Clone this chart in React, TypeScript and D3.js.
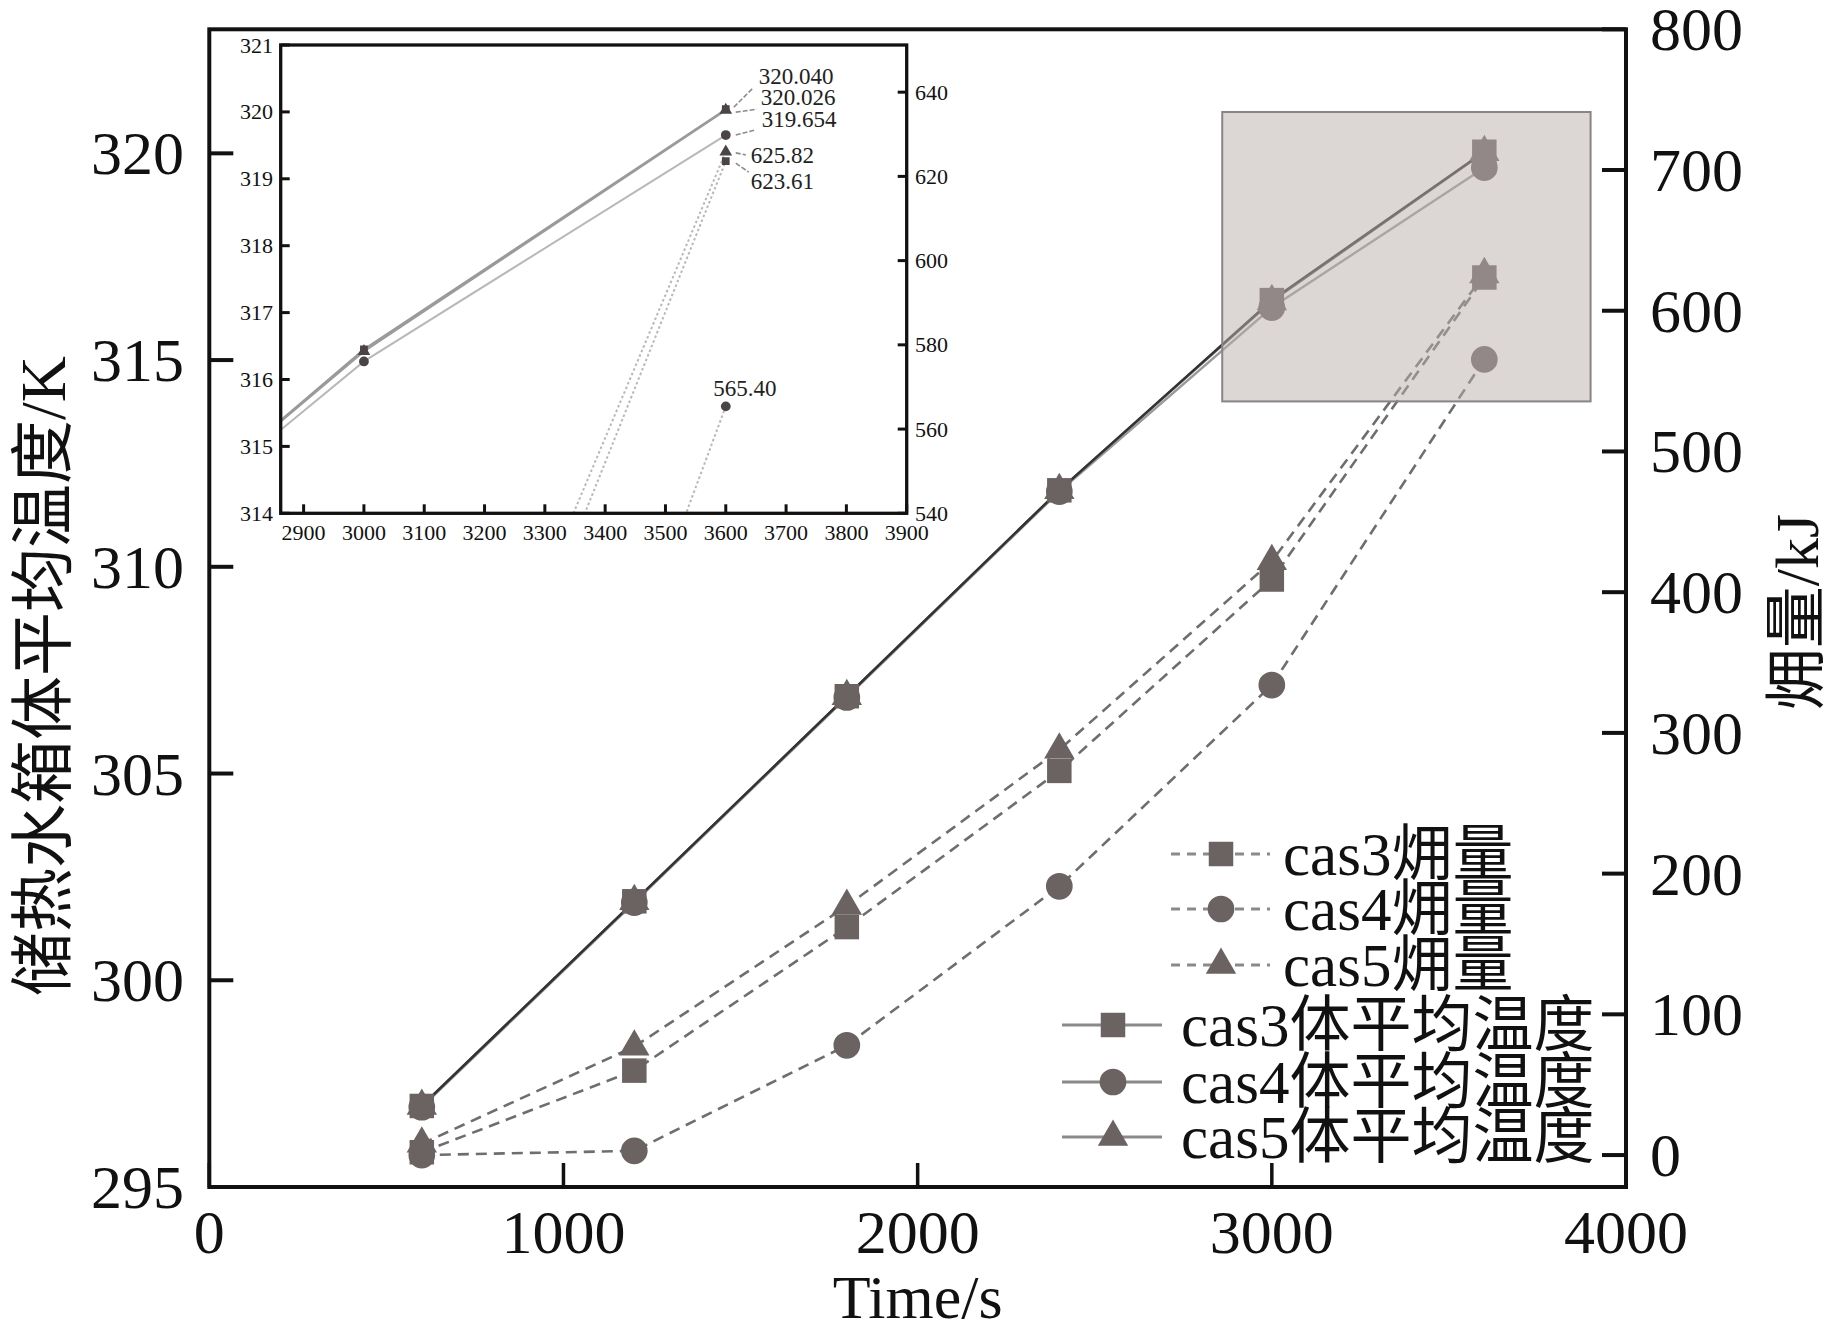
import React from "react";
import * as d3 from "d3";

// ---------- data ----------
const times = [600, 1200, 1800, 2400, 3000, 3600];
const tempCas3 = [296.96, 301.91, 306.87, 311.85, 316.45, 320.04];
const tempCas4 = [296.93, 301.88, 306.84, 311.82, 316.27, 319.654];
const tempCas5 = [296.96, 301.91, 306.87, 311.85, 316.42, 320.026];
const exCas3 = [2, 60, 162, 273, 409, 623.61];
const exCas4 = [0, 3, 78, 191, 334, 565.4];
const exCas5 = [8, 77, 177, 288, 422, 625.82];

const xTicks = [0, 1000, 2000, 3000, 4000];
const leftTicks = [295, 300, 305, 310, 315, 320];
const rightTicks = [0, 100, 200, 300, 400, 500, 600, 700, 800];

const insetXTicks = [2900, 3000, 3100, 3200, 3300, 3400, 3500, 3600, 3700, 3800, 3900];
const insetLeftTicks = [314, 315, 316, 317, 318, 319, 320, 321];
const insetRightTicks = [540, 560, 580, 600, 620, 640];

const zoomBox = { x0: 2860, x1: 3900, y0: 314, y1: 321 };

const legendLabels = [
  "cas3㶲量",
  "cas4㶲量",
  "cas5㶲量",
  "cas3体平均温度",
  "cas4体平均温度",
  "cas5体平均温度",
];

const FONT = "'Liberation Serif', 'Times New Roman', 'Noto Sans CJK SC', serif";
const MARK = "#6b6262";
const INK = "#111";

type Shape = "square" | "circle" | "triangle";

function symPath(shape: Shape, area: number) {
  const t =
    shape === "square" ? d3.symbolSquare : shape === "circle" ? d3.symbolCircle : d3.symbolTriangle;
  return d3.symbol().type(t).size(area)() as string;
}

export default function App() {
  // main plot geometry
  const L = 209.3, R = 1626, T = 29.3, B = 1187;
  const x = d3.scaleLinear().domain([0, 4000]).range([L, R]);
  const yL = d3.scaleLinear().domain([295, 323]).range([B, T]);
  const yR = d3.scaleLinear().domain([-22.7, 800]).range([B, T]);

  // inset geometry
  const iL = 280.7, iR = 906.7, iT = 45, iB = 513.3;
  const ix = d3.scaleLinear().domain([2862, 3900]).range([iL, iR]);
  const iyL = d3.scaleLinear().domain([314, 321]).range([iB, iT]);
  const iyR = d3.scaleLinear().domain([540, 651.2]).range([iB, iT]);

  const lineL = (vals: number[], sx: any, sy: any) =>
    d3.line<number>().x((_, i) => sx(times[i])).y((v) => sy(v))(vals) as string;

  const exSeries: { vals: number[]; shape: Shape }[] = [
    { vals: exCas3, shape: "square" },
    { vals: exCas4, shape: "circle" },
    { vals: exCas5, shape: "triangle" },
  ];
  const tSeries: { vals: number[]; shape: Shape; color: string }[] = [
    { vals: tempCas3, shape: "square", color: "#333333" },
    { vals: tempCas4, shape: "circle", color: "#9a9a9a" },
    { vals: tempCas5, shape: "triangle", color: "#666666" },
  ];
  const lineOrder = [1, 2, 0];
  const bigArea: Record<Shape, number> = { square: 600, circle: 560, triangle: 400 };
  const smallArea: Record<Shape, number> = { square: 60, circle: 75, triangle: 70 };

  // inset annotation anchors
  const px = ix(3600);
  const annots = [
    { text: "320.040", ax: px + 8, ay: iyL(320.04) - 2, bx: px + 27, by: iyL(320.04) - 21, tx: px + 33, ty: 76 },
    { text: "320.026", ax: px + 10, ay: iyL(320.026) + 2, bx: px + 31, by: iyL(320.026) - 1, tx: px + 35, ty: 97 },
    { text: "319.654", ax: px + 10, ay: iyL(319.654), bx: px + 29, by: iyL(319.654) - 5, tx: px + 36, ty: 119 },
    { text: "625.82", ax: px + 10, ay: iyR(625.82) + 1, bx: px + 20, by: iyR(625.82) + 3, tx: px + 25, ty: 155 },
    { text: "623.61", ax: px + 10, ay: iyR(623.61) + 2, bx: px + 23, by: iyR(623.61) + 11, tx: px + 25, ty: 181 },
  ];

  const legendRows = [854, 909, 965, 1025, 1082, 1137];

  return (
    <svg
      width={1845}
      height={1330}
      style={{ position: "absolute", left: 0, top: 0, background: "#fff" }}
      fontFamily={FONT}
    >
      <defs>
        <clipPath id="mainClip">
          <rect x={L} y={T} width={R - L} height={B - T} />
        </clipPath>
        <clipPath id="insetClip">
          <rect x={iL} y={iT} width={iR - iL} height={iB - iT} />
        </clipPath>
      </defs>
      <rect x={0} y={0} width={1845} height={1330} fill="#fff" />

      {/* main series: exergy (dashed, right axis) */}
      <g clipPath="url(#mainClip)">
        {exSeries.map((s, k) => (
          <path
            key={"exl" + k}
            d={lineL(s.vals, x, yR)}
            fill="none"
            stroke="#6e6e6e"
            strokeWidth={2.6}
            strokeDasharray="11,7"
          />
        ))}
        {exSeries.map((s, k) =>
          s.vals.map((v, i) => (
            <path
              key={"exm" + k + "-" + i}
              d={symPath(s.shape, bigArea[s.shape])}
              transform={`translate(${x(times[i])},${yR(v)})`}
              fill={MARK}
            />
          ))
        )}
        {/* temperatures (solid, left axis) */}
        {lineOrder.map((k) => (
          <path
            key={"tl" + k}
            d={lineL(tSeries[k].vals, x, yL)}
            fill="none"
            stroke={tSeries[k].color}
            strokeWidth={2.4}
          />
        ))}
        {tSeries.map((s, k) =>
          s.vals.map((v, i) => (
            <path
              key={"tm" + k + "-" + i}
              d={symPath(s.shape, bigArea[s.shape])}
              transform={`translate(${x(times[i])},${yL(v)})`}
              fill={MARK}
            />
          ))
        )}
      </g>

      {/* zoom rectangle */}
      <rect
        x={x(zoomBox.x0)}
        y={yL(zoomBox.y1)}
        width={x(zoomBox.x1) - x(zoomBox.x0)}
        height={yL(zoomBox.y0) - yL(zoomBox.y1)}
        fill="#b9aeac"
        fillOpacity={0.5}
        stroke="#8a8484"
        strokeWidth={2}
      />

      {/* main frame */}
      <rect x={L} y={T} width={R - L} height={B - T} fill="none" stroke={INK} strokeWidth={4} />

      {/* x axis */}
      {xTicks.map((t) => (
        <g key={"xt" + t}>
          <line x1={x(t)} x2={x(t)} y1={B} y2={B - 24} stroke={INK} strokeWidth={3.5} />
          <text x={x(t)} y={1253} textAnchor="middle" fontSize={62} fill={INK}>
            {t}
          </text>
        </g>
      ))}
      <text x={(L + R) / 2} y={1318} textAnchor="middle" fontSize={62} fill={INK}>
        Time/s
      </text>

      {/* left axis */}
      {leftTicks.map((t) => (
        <g key={"lt" + t}>
          <line x1={L} x2={L + 24} y1={yL(t)} y2={yL(t)} stroke={INK} strokeWidth={4} />
          <text x={184} y={yL(t)} textAnchor="end" dominantBaseline="central" fontSize={62} fill={INK}>
            {t}
          </text>
        </g>
      ))}
      <text
        transform={`translate(43,676) rotate(-90)`}
        textAnchor="middle"
        dominantBaseline="central"
        fontSize={64}
        fill={INK}
      >
        储热水箱体平均温度/K
      </text>

      {/* right axis */}
      {rightTicks.map((t) => (
        <g key={"rt" + t}>
          <line x1={R} x2={R - 24} y1={yR(t)} y2={yR(t)} stroke={INK} strokeWidth={4} />
          <text x={1650} y={yR(t) + 21} textAnchor="start" fontSize={62} fill={INK}>
            {t}
          </text>
        </g>
      ))}
      <text
        transform={`translate(1797,612) rotate(-90)`}
        textAnchor="middle"
        dominantBaseline="central"
        fontSize={62}
        fill={INK}
      >
        㶲量/kJ
      </text>

      {/* legend */}
      {legendRows.map((cy, k) => {
        const dashed = k < 3;
        const shape: Shape = (["square", "circle", "triangle"] as Shape[])[k % 3];
        const lx0 = dashed ? 1171 : 1062;
        const lx1 = dashed ? 1270 : 1162;
        const mx = dashed ? 1221 : 1113;
        const tx = dashed ? 1283 : 1181;
        return (
          <g key={"lg" + k}>
            <line
              x1={lx0}
              x2={lx1}
              y1={cy}
              y2={cy}
              stroke="#8a8a8a"
              strokeWidth={3}
              strokeDasharray={dashed ? "9,7" : undefined}
            />
            <path d={symPath(shape, bigArea[shape])} transform={`translate(${mx},${cy})`} fill={MARK} />
            <text x={tx} y={cy + 21} fontSize={61} fill={INK}>
              {legendLabels[k]}
            </text>
          </g>
        );
      })}

      {/* ---------- inset ---------- */}
      <rect x={iL} y={iT} width={iR - iL} height={iB - iT} fill="#fff" />
      <g clipPath="url(#insetClip)">
        {exSeries.map((s, k) => (
          <path
            key={"iexl" + k}
            d={lineL(s.vals, ix, iyR)}
            fill="none"
            stroke="#bdb6b6"
            strokeWidth={2}
            strokeDasharray="2.5,2.5"
          />
        ))}
        {[tSeries[1], tSeries[0], tSeries[2]].map((s, k) => (
          <path
            key={"itl" + k}
            d={lineL(s.vals, ix, iyL)}
            fill="none"
            stroke={k === 0 ? "#b8b8b8" : "#9a9a9a"}
            strokeWidth={2}
          />
        ))}
        {exSeries.map((s, k) =>
          s.vals.map((v, i) => (
            <path
              key={"iexm" + k + "-" + i}
              d={symPath(s.shape, smallArea[s.shape])}
              transform={`translate(${ix(times[i])},${iyR(v)})`}
              fill="#4a4444"
            />
          ))
        )}
        {tSeries.map((s, k) =>
          s.vals.map((v, i) => (
            <path
              key={"itm" + k + "-" + i}
              d={symPath(s.shape, smallArea[s.shape])}
              transform={`translate(${ix(times[i])},${iyL(v)})`}
              fill="#4a4444"
            />
          ))
        )}
      </g>
      <rect x={iL} y={iT} width={iR - iL} height={iB - iT} fill="none" stroke={INK} strokeWidth={3.3} />

      {insetXTicks.map((t) => (
        <g key={"ixt" + t}>
          <line x1={ix(t)} x2={ix(t)} y1={iB} y2={iB - 9} stroke={INK} strokeWidth={3} />
          <text x={ix(t)} y={532} textAnchor="middle" dominantBaseline="central" fontSize={22} fill={INK}>
            {t}
          </text>
        </g>
      ))}
      {insetLeftTicks.map((t) => (
        <g key={"ilt" + t}>
          <line x1={iL} x2={iL + 9} y1={iyL(t)} y2={iyL(t)} stroke={INK} strokeWidth={3} />
          <text x={273} y={iyL(t)} textAnchor="end" dominantBaseline="central" fontSize={22} fill={INK}>
            {t}
          </text>
        </g>
      ))}
      {insetRightTicks.map((t) => (
        <g key={"irt" + t}>
          <line x1={iR} x2={iR - 9} y1={iyR(t)} y2={iyR(t)} stroke={INK} strokeWidth={3} />
          <text x={915} y={iyR(t)} textAnchor="start" dominantBaseline="central" fontSize={22} fill={INK}>
            {t}
          </text>
        </g>
      ))}

      {/* inset annotations */}
      {annots.map((a, k) => (
        <g key={"an" + k}>
          <line x1={a.ax} y1={a.ay} x2={a.bx} y2={a.by} stroke="#8c8c8c" strokeWidth={1.6} strokeDasharray="5,2" />
          <text x={a.tx} y={a.ty} dominantBaseline="central" fontSize={23} fill="#222">
            {a.text}
          </text>
        </g>
      ))}
      <text x={ix(3600) + 19} y={iyR(565.4) - 18} textAnchor="middle" dominantBaseline="central" fontSize={23} fill="#222">
        565.40
      </text>
    </svg>
  );
}
